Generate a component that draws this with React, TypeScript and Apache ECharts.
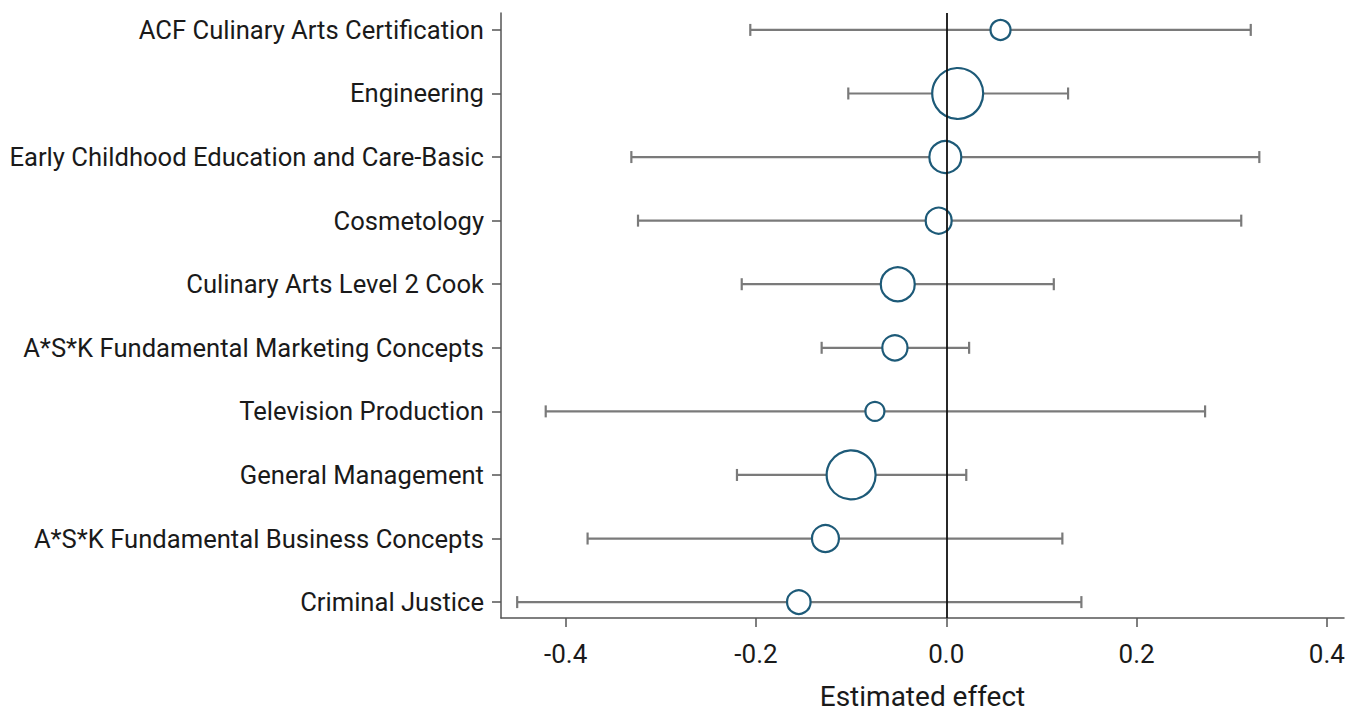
import React, { useEffect, useRef } from "react";
import * as echarts from "echarts";

const categories = [
  "ACF Culinary Arts Certification",
  "Engineering",
  "Early Childhood Education and Care-Basic",
  "Cosmetology",
  "Culinary Arts Level 2 Cook",
  "A*S*K Fundamental Marketing Concepts",
  "Television Production",
  "General Management",
  "A*S*K Fundamental Business Concepts",
  "Criminal Justice",
];
const estimates = [0.057, 0.012, -0.001, -0.008, -0.051, -0.054, -0.075, -0.1, -0.127, -0.155];
const lower = [-0.206, -0.103, -0.331, -0.324, -0.215, -0.131, -0.421, -0.22, -0.377, -0.451];
const upper = [0.32, 0.128, 0.329, 0.31, 0.113, 0.024, 0.272, 0.021, 0.122, 0.142];
const weights = [100, 650, 256, 169, 289, 159, 90, 600, 182, 139];
const xTicks = [-0.4, -0.2, 0, 0.2, 0.4];
const xTitle = "Estimated effect";

const FONT = "Roboto";

export default function App() {
  const ref = useRef<HTMLDivElement>(null);
  useEffect(() => {
    if (!ref.current) return;
    const chart = echarts.init(ref.current, null, { renderer: "svg" });
    const n = categories.length;
    const yVals = categories.map((_, i) => n - i);
    const barData = categories.map((_, i) => [lower[i], upper[i], n - i]);
    const pointData = categories.map((_, i) => [estimates[i], n - i, weights[i]]);

    chart.setOption({
      animation: false,
      backgroundColor: "#ffffff",
      grid: { left: 501, right: 20, top: 13, bottom: 93, containLabel: false },
      xAxis: {
        type: "value",
        min: -0.468,
        max: 0.418,
        name: xTitle,
        nameLocation: "middle",
        nameGap: 64,
        nameTextStyle: { fontFamily: FONT, fontSize: 28, color: "#1a1a1a" },
        axisLine: { show: true, onZero: false, lineStyle: { color: "#555555", width: 1.5 } },
        axisTick: { show: true, length: 9, customValues: xTicks, lineStyle: { color: "#555555", width: 1.5 } },
        axisLabel: {
          customValues: xTicks,
          margin: 23,
          fontFamily: FONT,
          fontSize: 26,
          color: "#1a1a1a",
          formatter: (v: number) => v.toFixed(1),
        },
        splitLine: { show: false },
      },
      yAxis: {
        type: "value",
        min: 0.75,
        max: 10.266,
        axisLine: { show: true, onZero: false, lineStyle: { color: "#555555", width: 1.5 } },
        axisTick: { show: true, length: 9, customValues: yVals, lineStyle: { color: "#555555", width: 1.5 } },
        axisLabel: {
          customValues: yVals,
          margin: 17,
          fontFamily: FONT,
          fontSize: 25.6,
          color: "#1a1a1a",
          formatter: (v: number) => categories[n - Math.round(v)] ?? "",
        },
        splitLine: { show: false },
      },
      series: [
        {
          type: "custom",
          z: 2,
          data: barData,
          encode: { x: [0, 1], y: 2 },
          renderItem: (params: any, api: any) => {
            const lo = api.coord([api.value(0), api.value(2)]);
            const hi = api.coord([api.value(1), api.value(2)]);
            const h = 6;
            const style = { stroke: "#7a7a7a", lineWidth: 2.2 };
            return {
              type: "group",
              children: [
                { type: "line", shape: { x1: lo[0], y1: lo[1], x2: hi[0], y2: hi[1] }, style },
                { type: "line", shape: { x1: lo[0], y1: lo[1] - h, x2: lo[0], y2: lo[1] + h }, style },
                { type: "line", shape: { x1: hi[0], y1: hi[1] - h, x2: hi[0], y2: hi[1] + h }, style },
              ],
            };
          },
          markLine: {
            silent: true,
            symbol: "none",
            label: { show: false },
            lineStyle: { color: "#111111", width: 1.8, type: "solid" },
            data: [{ xAxis: 0 }],
          },
        },
        {
          type: "scatter",
          z: 3,
          data: pointData,
          symbol: "circle",
          symbolSize: (v: number[]) => 2 * Math.sqrt(v[2]),
          itemStyle: { color: "#ffffff", borderColor: "#1d5a78", borderWidth: 2.2, opacity: 1 },
        },
      ],
    });
    return () => chart.dispose();
  }, []);
  return (
    <div
      ref={ref}
      style={{ position: "absolute", left: 0, top: 0, width: 1364, height: 715 }}
    />
  );
}
